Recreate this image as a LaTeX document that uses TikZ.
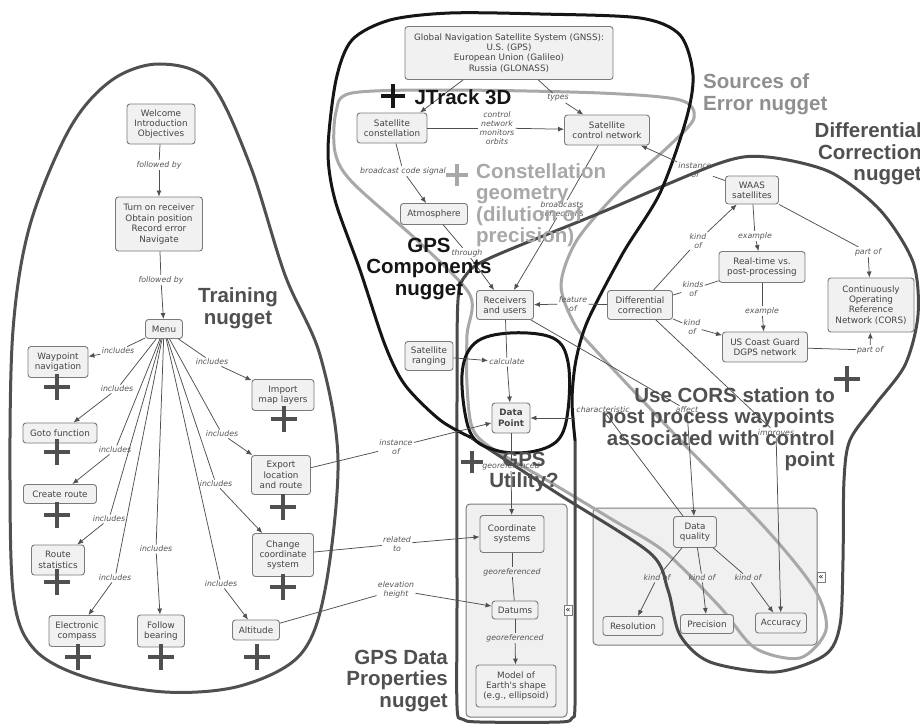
\documentclass[tikz,border=0pt]{standalone}
\usepackage{fontspec}
\newfontfamily\boxfont{DejaVu Sans}[ItalicFont={DejaVu Sans Oblique},BoldFont={DejaVu Sans Bold}]
\newfontfamily\headfont{Liberation Sans}
\usetikzlibrary{arrows.meta}
\pgfdeclarelayer{background}
\pgfsetlayers{background,main}
\definecolor{boxline}{HTML}{7A7A7A}
\definecolor{boxfill}{HTML}{F1F1F1}
\definecolor{boxtext}{HTML}{444444}
\definecolor{lblgray}{HTML}{555555}
\definecolor{linkgray}{HTML}{505050}
\definecolor{rimdark}{HTML}{4A4A4A}
\definecolor{rimblack}{HTML}{151515}
\definecolor{rimlight}{HTML}{A8A8A8}
\definecolor{headgray}{HTML}{505050}
\definecolor{panelfill}{HTML}{F0F0F0}

\tikzset{
  concept/.style={draw=boxline, fill=boxfill, rounded corners=3pt, line width=0.9pt,
    text=boxtext, font=\boxfont\fontsize{8.8}{10.4}\selectfont, align=center, inner sep=1.5pt},
  lnk/.style={text=lblgray, font=\boxfont\itshape\fontsize{7.8}{9}\selectfont, align=center, inner sep=1.2pt},
  conn/.style={draw=linkgray, line width=0.75pt},
  arr/.style={conn, -{Latex[length=6pt,width=5pt]}},
  head/.style={font=\headfont\bfseries\fontsize{20.5}{21.5}\selectfont, inner sep=0pt},
  rim/.style={line width=3pt, line cap=round, line join=round},
  toggle/.style={draw=boxline, fill=white, inner sep=0pt, minimum width=8, minimum height=10,
    font=\boxfont\fontsize{8}{8}\selectfont},
}
% a bold plus sign centred on (#1,#2)
\newcommand{\plusmark}[4]{\draw[line width=3.5pt,#4] (#1-#3,#2) -- (#1+#3,#2) (#1,#2-#3) -- (#1,#2+#3);}

\begin{document}
\begin{tikzpicture}[x=1pt,y=-1pt]
\useasboundingbox (0,0) rectangle (920,725);

% ---------------- training concepts ----------------
\node[concept, minimum width=68, minimum height=40] (welcome) at (161,124) {Welcome\\Introduction\\Objectives};
\node[concept, minimum width=87, minimum height=54] (turnon) at (159,224) {Turn on receiver\\Obtain position\\Record error\\Navigate};
\node[concept, minimum width=37, minimum height=19] (menu) at (164,329) {Menu};
\node[concept, minimum width=60, minimum height=31] (waypoint) at (58,362) {Waypoint\\navigation};
\node[concept, minimum width=74, minimum height=20] (goto) at (60,433) {Goto function};
\node[concept, minimum width=73, minimum height=19] (createroute) at (60,494) {Create route};
\node[concept, minimum width=53, minimum height=30] (routestat) at (58,560) {Route\\statistics};
\node[concept, minimum width=56, minimum height=31] (compass) at (77,631) {Electronic\\compass};
\node[concept, minimum width=47, minimum height=32] (follow) at (161,631) {Follow\\bearing};
\node[concept, minimum width=47, minimum height=20] (altitude) at (256,630) {Altitude};
\node[concept, minimum width=62, minimum height=31] (import) at (283,395) {Import\\map layers};
\node[concept, minimum width=59, minimum height=39] (export) at (281,475) {Export\\location\\and route};
\node[concept, minimum width=61, minimum height=43] (change) at (283,555) {Change\\coordinate\\system};

% ---------------- GPS component concepts ----------------
\node[concept, minimum width=208, minimum height=53] (gnss) at (509,53) {Global Navigation Satellite System (GNSS):\\U.S. (GPS)\\European Union (Galileo)\\Russia (GLONASS)};
\node[concept, minimum width=70, minimum height=30] (satconst) at (392,128) {Satellite\\constellation};
\node[concept, minimum width=85, minimum height=30] (satcontrol) at (607,130) {Satellite\\control network};
\node[concept, minimum width=67, minimum height=21] (atmos) at (434,214) {Atmosphere};
\node[concept, minimum width=57, minimum height=29] (receivers) at (505,305) {Receivers\\and users};
\node[concept, minimum width=48, minimum height=29] (satranging) at (429,356) {Satellite\\ranging};
\node[concept, minimum width=38, minimum height=30, font=\boxfont\bfseries\fontsize{8.8}{10.4}\selectfont] (datapoint) at (511,418) {Data\\Point};
\node[concept, minimum width=65, minimum height=29] (diffcorr) at (640,305) {Differential\\correction};
\node[concept, minimum width=53, minimum height=28] (waas) at (752,190) {WAAS\\satellites};
\node[concept, minimum width=86, minimum height=31] (realtime) at (762,267) {Real-time vs.\\post-processing};
\node[concept, minimum width=85, minimum height=30] (uscg) at (765,347) {US Coast Guard\\DGPS network};
\node[concept, minimum width=86, minimum height=54] (cors) at (871,305) {Continuously\\Operating\\Reference\\Network (CORS)};

% ---------------- data property concepts ----------------
\node[concept, minimum width=64, minimum height=37] (coordsys) at (512,534) {Coordinate\\systems};
\node[concept, minimum width=46, minimum height=18] (datums) at (515,610) {Datums};
\node[concept, minimum width=80, minimum height=42] (model) at (516,686) {Model of\\Earth's shape\\(e.g., ellipsoid)};
\node[concept, minimum width=43, minimum height=31] (dataq) at (695,532) {Data\\quality};
\node[concept, minimum width=60, minimum height=19] (resolution) at (633,626) {Resolution};
\node[concept, minimum width=53, minimum height=19] (precision) at (707,624) {Precision};
\node[concept, minimum width=51, minimum height=20] (accuracy) at (781,623) {Accuracy};

% ---------------- link phrases ----------------
\node[lnk] (fb1) at (159,165) {followed by};
\node[lnk] (fb2) at (161,280) {followed by};
\node[lnk] (inc1) at (118,351) {includes};
\node[lnk] (inc2) at (117,389) {includes};
\node[lnk] (inc3) at (115,450) {includes};
\node[lnk] (inc4) at (109,519) {includes};
\node[lnk] (inc5) at (115,578) {includes};
\node[lnk] (inc6) at (156,549) {includes};
\node[lnk] (inc7) at (221,584) {includes};
\node[lnk] (inc8) at (212,362) {includes};
\node[lnk] (inc9) at (222,434) {includes};
\node[lnk] (inc10) at (216,484) {includes};
\node[lnk] (types) at (558,98) {types};
\node[lnk] (monitors) at (497,128) {control\\network\\monitors\\orbits};
\node[lnk] (bcs) at (403,171) {broadcast code signal};
\node[lnk] (through) at (467,253) {through};
\node[lnk] (bcorr) at (562,209) {broadcasts\\corrections};
\node[lnk] (featof) at (573,304) {feature\\of};
\node[lnk] (calc) at (507,362) {calculate};
\node[lnk] (georef1) at (511,466) {georeferenced};
\node[lnk] (georef2) at (512,572) {georeferenced};
\node[lnk] (georef3) at (515,638) {georeferenced};
\node[lnk] (instof) at (396,447) {instance\\of};
\node[lnk] (relto) at (397,544) {related\\to};
\node[lnk] (elev) at (396,590) {elevation\\height};
\node[lnk] (charac) at (603,410) {characteristic};
\node[lnk] (affect) at (687,410) {affect};
\node[lnk] (improves) at (776,433) {improves};
\node[lnk] (instof2) at (695,170) {instance\\of};
\node[lnk] (kindof1) at (698,241) {kind\\of};
\node[lnk] (kindsof) at (693,289) {kinds\\of};
\node[lnk] (kindof2) at (692,327) {kind\\of};
\node[lnk] (ex1) at (755,236) {example};
\node[lnk] (ex2) at (762,311) {example};
\node[lnk] (partof1) at (868,252) {part of};
\node[lnk] (partof2) at (870,350) {part of};
\node[lnk] (kindof3) at (657,578) {kind of};
\node[lnk] (kindof4) at (702,578) {kind of};
\node[lnk] (kindof5) at (748,578) {kind of};

% ---------------- page, panels and nugget outlines ----------------
\begin{pgfonlayer}{background}
  \fill[white] (0,0) rectangle (920,725);
  \draw[draw=boxline, fill=panelfill, line width=1pt, rounded corners=4pt] (593,508) rectangle (817,645);
  \draw[draw=boxline, fill=panelfill, line width=1pt, rounded corners=4pt] (466,504) rectangle (567,717);
  % training nugget
  \draw[rim, draw=headgray] plot[smooth cycle, tension=0.55] coordinates {(160,64) (210,82) (250,165) (285,275) (320,355) (338,460) (325,590) (300,655) (240,686) (165,692) (85,677) (35,650) (14,600) (10,480) (13,330) (30,225) (70,128) (112,80)};
  % sources of error nugget
  \draw[rim, draw=rimlight] plot[smooth cycle, tension=0.5] coordinates {(352,93) (450,90) (600,93) (680,100) (694,118) (670,145) (620,190) (577,240) (561,285) (575,325) (600,355) (680,440) (767,530) (815,590) (826,630) (800,658) (755,648) (720,607) (665,552) (613,520) (550,482) (490,447) (472,427) (467,385) (467,335) (470,295) (420,243) (352,182) (335,152) (336,112)};
  % differential correction and data properties nuggets
  \draw[rim, draw=rimdark] plot[smooth, tension=0.5] coordinates {(470,437) (560,495) (650,553) (668,590) (680,635) (710,662) (775,672) (825,655) (840,625) (843,560) (844,480) (850,440) (875,405) (905,365) (918,315) (913,262) (880,210) (830,172) (767,157) (720,163) (600,213) (490,258) (466,275) (458,300) (457,400) (457,600) (457,706) (462,719) (480,722) (560,722) (572,718) (575,705) (575,600) (575,440)};
  % GPS components nugget
  \draw[rim, draw=rimblack] plot[smooth, tension=0.5] coordinates {(575,440) (572,400) (576,360) (588,320) (623,253) (660,193) (686,120) (693,75) (680,35) (640,18) (540,14) (450,13) (390,20) (352,40) (336,80) (328,150) (335,200) (360,270) (385,345) (405,385) (440,420) (470,437)};
  % GPS utility loop
  \draw[rim, draw=rimblack] plot[smooth cycle, tension=0.6] coordinates {(462,375) (475,343) (510,333) (553,338) (568,362) (568,410) (558,440) (530,452) (495,450) (470,432)};
\end{pgfonlayer}

\node[toggle] (dqtoggle) at (821,577) {«};
\node[toggle] (gdtoggle) at (568,610) {«};

% ---------------- connectors ----------------
\draw[conn] (welcome) -- (fb1);  \draw[arr] (fb1) -- (turnon);
\draw[conn] (turnon) -- (fb2);   \draw[arr] (fb2) -- (menu);
\draw[conn] (menu) -- (inc1);  \draw[arr] (inc1) -- (waypoint);
\draw[conn] (menu) -- (inc2);  \draw[arr] (inc2) -- (goto);
\draw[conn] (menu) -- (inc3);  \draw[arr] (inc3) -- (createroute);
\draw[conn] (menu) -- (inc4);  \draw[arr] (inc4) -- (routestat);
\draw[conn] (menu) -- (inc5);  \draw[arr] (inc5) -- (compass);
\draw[conn] (menu) -- (inc6);  \draw[arr] (inc6) -- (follow);
\draw[conn] (menu) -- (inc7);  \draw[arr] (inc7) -- (altitude);
\draw[conn] (menu) -- (inc8);  \draw[arr] (inc8) -- (import);
\draw[conn] (menu) -- (inc9);  \draw[arr] (inc9) -- (export);
\draw[conn] (menu) -- (inc10); \draw[arr] (inc10) -- (change);

\draw[arr] ([xshift=-46pt]gnss.south) -- ([xshift=28pt]satconst.north);
\draw[conn] (gnss) -- (types);  \draw[arr] (types) -- (satcontrol);
\draw[conn] (satconst) -- (monitors);  \draw[arr] (monitors) -- (satcontrol);
\draw[conn] (satconst) -- (bcs);  \draw[arr] (bcs) -- (atmos);
\draw[conn] (atmos) -- (through);  \draw[arr] (through) -- (receivers);
\draw[conn] (satcontrol) -- (bcorr);  \draw[arr] (bcorr) -- (receivers);
\draw[conn] (diffcorr) -- (featof);  \draw[arr] (featof) -- (receivers);
\draw[conn] (receivers) -- (calc);  \draw[arr] (calc) -- (datapoint);
\draw[arr] (satranging) -- (calc);
\draw[conn] (datapoint) -- (georef1);  \draw[arr] (georef1) -- (coordsys);
\draw[conn] (coordsys) -- (georef2);  \draw[conn] (georef2) -- (datums);
\draw[conn] (datums) -- (georef3);  \draw[arr] (georef3) -- (model);
\draw[conn] (export) -- (instof);  \draw[arr] (instof) -- (datapoint);
\draw[conn] (change) -- (relto);  \draw[arr] (relto) -- (coordsys);
\draw[conn] (altitude) -- (elev);  \draw[arr] (elev) -- (datums);
\draw[conn] (dataq) -- (charac);  \draw[arr] (charac.west |- datapoint.east) -- (datapoint.east);
\draw[conn] (receivers) -- (affect);  \draw[arr] (affect) -- (dataq);
\draw[conn] (diffcorr) -- (improves);  \draw[arr] (improves) -- (accuracy);
\draw[conn] (waas) -- (instof2);  \draw[arr] (instof2) -- (satcontrol);
\draw[conn] (diffcorr) -- (kindof1);  \draw[arr] (kindof1) -- (waas);
\draw[conn] (diffcorr) -- (kindsof);  \draw[conn] (kindsof) -- (realtime);
\draw[conn] (diffcorr) -- (kindof2);  \draw[arr] (kindof2) -- (uscg);
\draw[conn] (waas) -- (ex1);  \draw[arr] (ex1) -- (realtime);
\draw[conn] (realtime) -- (ex2);  \draw[arr] (ex2) -- (uscg);
\draw[conn] (waas) -- (partof1);  \draw[arr] (partof1) -- (cors);
\draw[conn] (uscg) -- (partof2);  \draw[arr] (partof2) -- (cors);
\draw[conn] (dataq) -- (kindof3);  \draw[arr] (kindof3) -- (resolution);
\draw[conn] (dataq) -- (kindof4);  \draw[arr] (kindof4) -- (precision);
\draw[conn] (dataq) -- (kindof5);  \draw[arr] (kindof5) -- (accuracy);

% ---------------- plus marks ----------------
\plusmark{57}{387}{13}{headgray}
\plusmark{57}{452}{13}{headgray}
\plusmark{57}{515}{13}{headgray}
\plusmark{57}{582}{13}{headgray}
\plusmark{78}{657}{13}{headgray}
\plusmark{161}{657}{13}{headgray}
\plusmark{257}{657}{13}{headgray}
\plusmark{284}{419}{13}{headgray}
\plusmark{283}{507}{13}{headgray}
\plusmark{283}{587}{13}{headgray}
\plusmark{847}{379}{13}{headgray}
\plusmark{393}{96}{12}{rimblack}
\plusmark{457}{175}{11}{rimlight}
\plusmark{472}{462}{11}{headgray}

% ---------------- nugget titles ----------------
\node[head, text=headgray, align=center] (trainlbl) at (238,308) {Training\\nugget};
\node[head, text=rimblack] (jtrack) at (463,97) {JTrack 3D};
\node[head, text=rimlight, align=left, anchor=west] (geomlbl) at (476,205) {Constellation\\geometry\\(dilution of\\precision)};
\node[head, text=rimblack, align=center] (complbl) at (429,269) {GPS\\Components\\nugget};
\node[head, text=rimlight!85!black, align=left, anchor=west] (errlbl) at (703,94) {Sources of\\Error nugget};
\node[head, text=headgray, align=right, anchor=east] (difflbl) at (922,154) {Differential\\Correction\\nugget};
\node[head, text=headgray, align=right, anchor=east] (corslbl) at (835,429) {Use CORS station to\\post process waypoints\\associated with control\\point};
\node[head, text=headgray, align=center] (utillbl) at (524,472) {GPS\\Utility?};
\node[head, text=headgray, align=right, anchor=east] (proplbl) at (448,681) {GPS Data\\Properties\\nugget};
\end{tikzpicture}
\end{document}
